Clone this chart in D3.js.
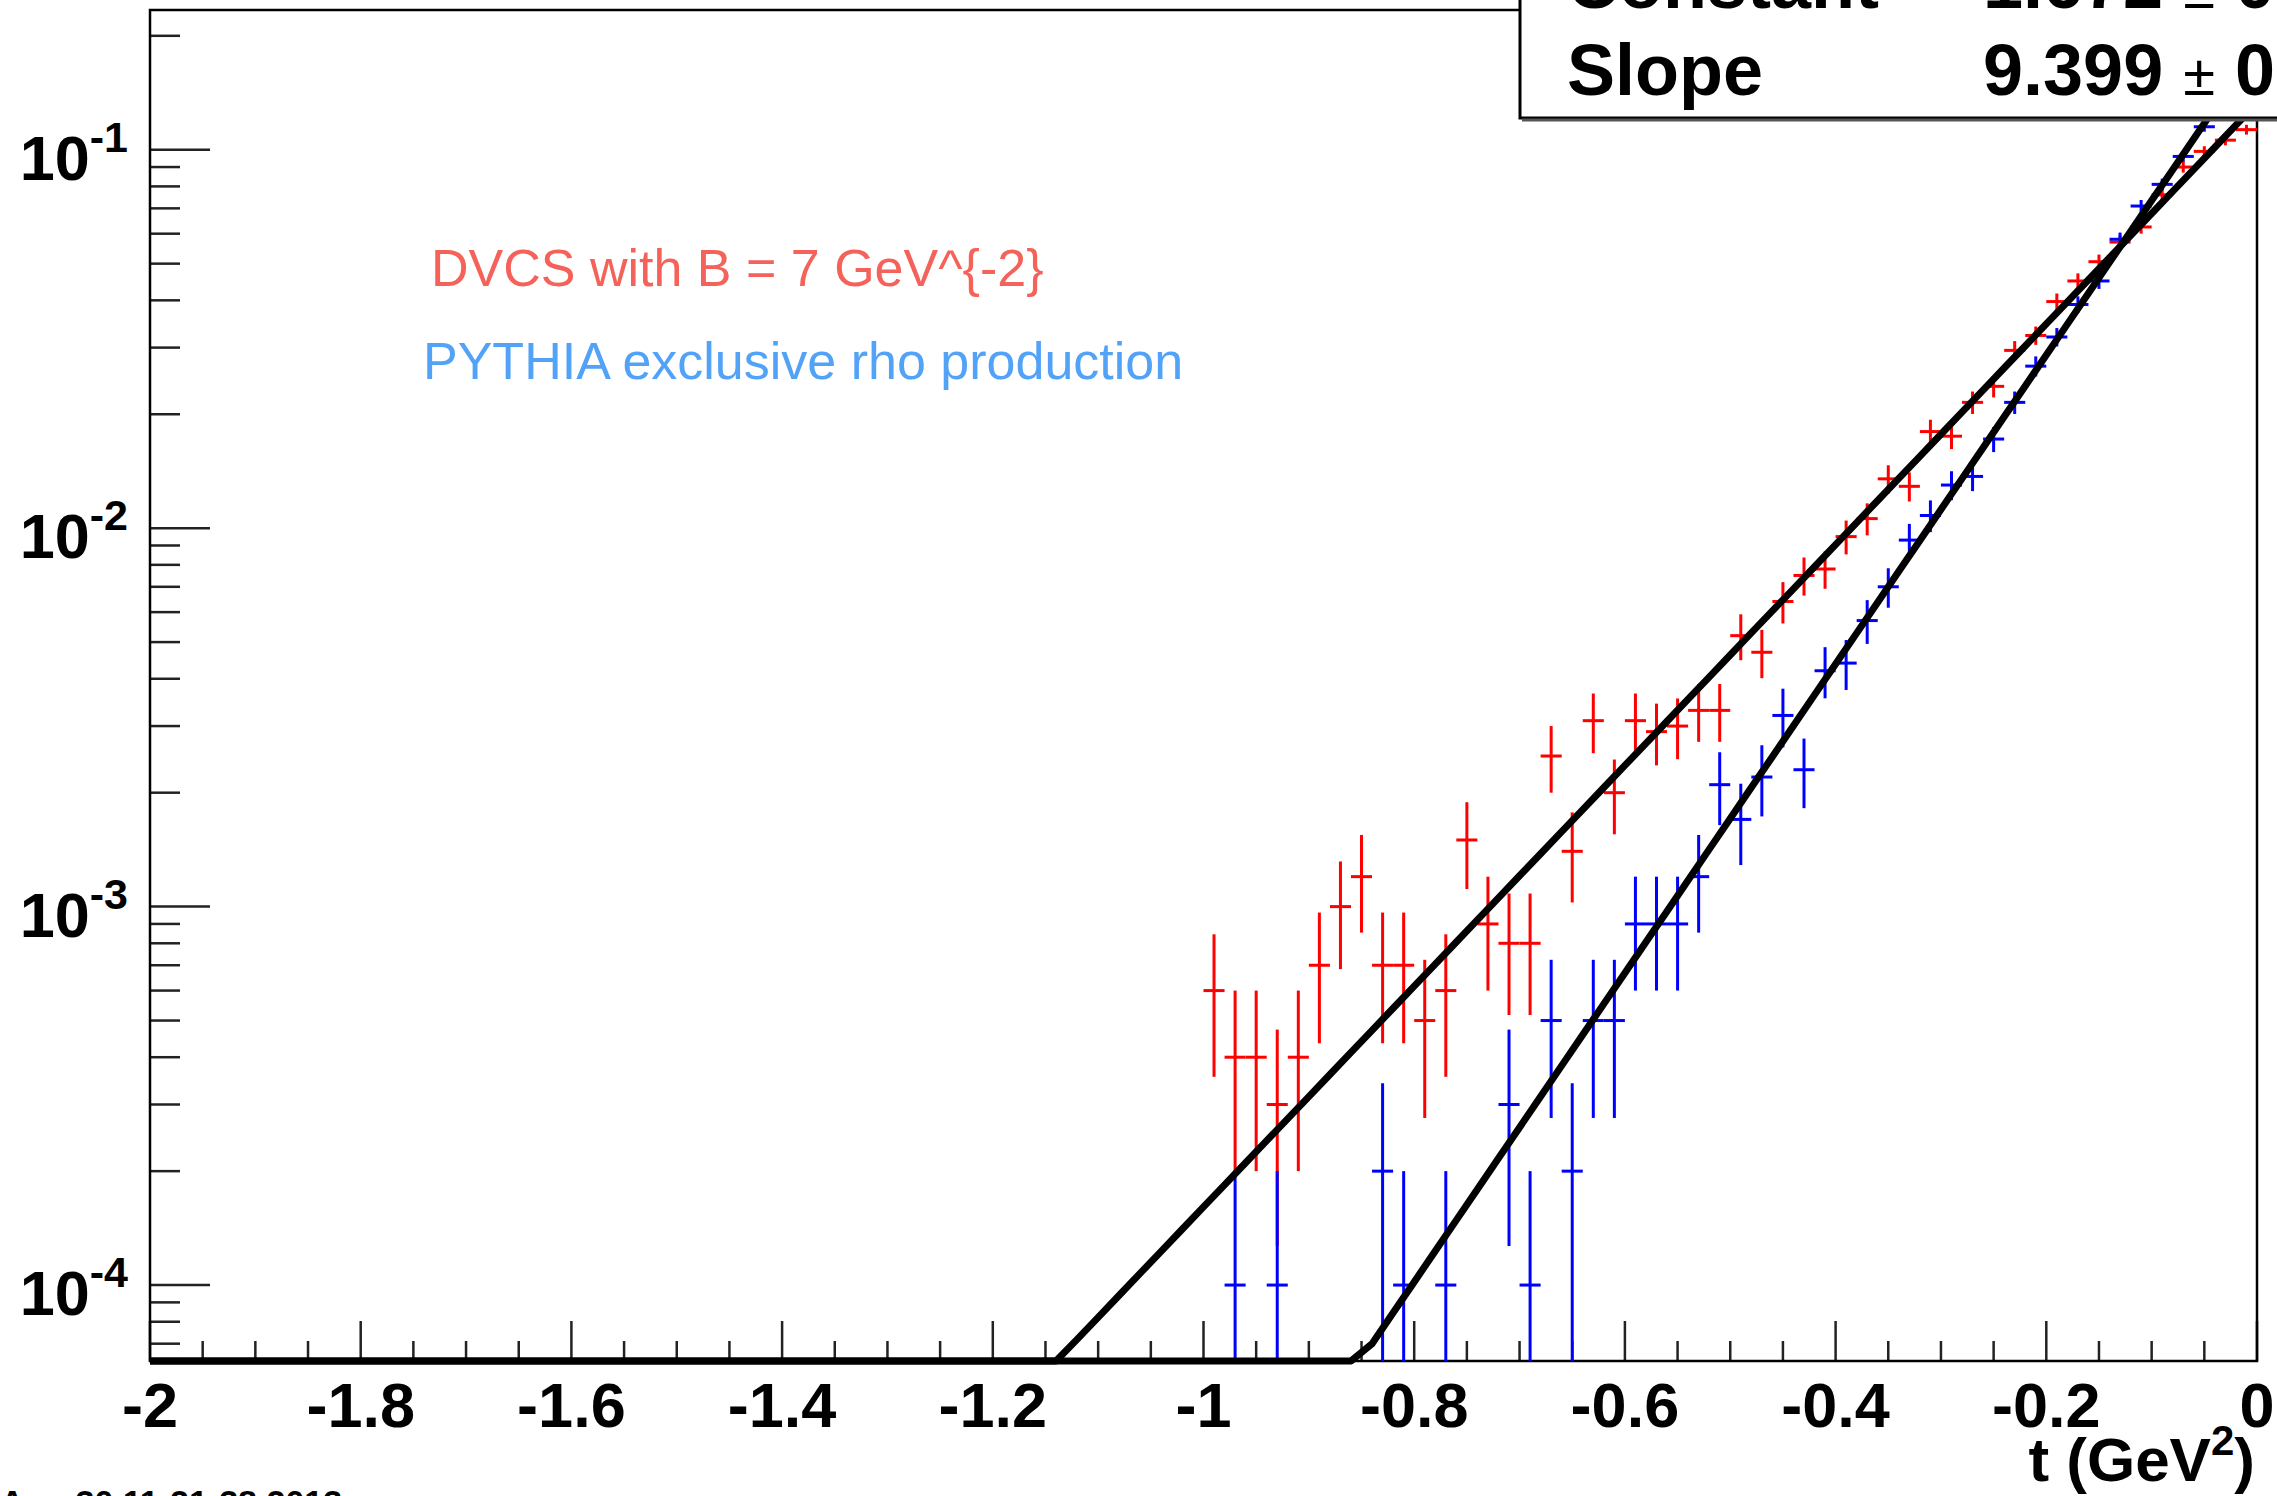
<!DOCTYPE html>
<html lang="en">
    <head>
        <meta charset="utf-8">
        <title>t distribution</title>
        <script type="text/javascript" src="https://cdn.jsdelivr.net/npm/d3@7"></script>
    </head>
    <style type="text/css">
        body { margin: 0; background: white; }
        svg { display: block; }
        text { font-family: "Liberation Sans", Arial, Helvetica, sans-serif; }
    </style>
    <body>
        <div class="chart"></div>
        <script type="text/javascript">
            // bin centres (bin width 0.02 GeV^2)
            var binCenters = [-0.99, -0.97, -0.95, -0.93, -0.91, -0.89, -0.87, -0.85, -0.83, -0.81,
                              -0.79, -0.77, -0.75, -0.73, -0.71, -0.69, -0.67, -0.65, -0.63, -0.61,
                              -0.59, -0.57, -0.55, -0.53, -0.51, -0.49, -0.47, -0.45, -0.43, -0.41,
                              -0.39, -0.37, -0.35, -0.33, -0.31, -0.29, -0.27, -0.25, -0.23, -0.21,
                              -0.19, -0.17, -0.15, -0.13, -0.11, -0.09, -0.07, -0.05, -0.03, -0.01];

            var dvcsValues = [6e-4, 4e-4, 4e-4, 3e-4, 4e-4, 7e-4, 1.0e-3, 1.2e-3, 7e-4, 7e-4,
                              5e-4, 6e-4, 1.5e-3, 9e-4, 8e-4, 8e-4, 2.5e-3, 1.4e-3, 3.1e-3, 2.0e-3,
                              3.1e-3, 2.9e-3, 3.0e-3, 3.3e-3, 3.3e-3, 5.2e-3, 4.7e-3, 6.4e-3, 7.5e-3, 7.8e-3,
                              9.5e-3, 1.06e-2, 1.35e-2, 1.29e-2, 1.8e-2, 1.75e-2, 2.15e-2, 2.37e-2, 2.95e-2, 3.23e-2,
                              3.97e-2, 4.5e-2, 5.06e-2, 5.7e-2, 6.25e-2, 7.6e-2, 9.0e-2, 9.9e-2, 1.06e-1, 1.13e-1];

            var rhoValues = [0, 1e-4, 0, 1e-4, 0, 0, 0, 0, 2e-4, 1e-4,
                             0, 1e-4, 0, 0, 3e-4, 1e-4, 5e-4, 2e-4, 5e-4, 5e-4,
                             9e-4, 9e-4, 9e-4, 1.2e-3, 2.1e-3, 1.7e-3, 2.2e-3, 3.2e-3, 2.3e-3, 4.2e-3,
                             4.4e-3, 5.7e-3, 7.0e-3, 9.3e-3, 1.08e-2, 1.3e-2, 1.37e-2, 1.72e-2, 2.15e-2, 2.68e-2,
                             3.2e-2, 3.9e-2, 4.5e-2, 5.8e-2, 7.1e-2, 8.1e-2, 9.6e-2, 1.15e-1, 1.35e-1, 1.6e-1];

            // each entry carries weight 1e-4, errors are poisson
            var eventWeight = 1e-4;

            // expo fits: exp(constant + slope * t)
            var fitNames = ["DVCS", "rho"];
            var fitConstant = [-2.019, -1.672];
            var fitSlope = [6.716, 9.399];

            var xTickValues = [-2, -1.8, -1.6, -1.4, -1.2, -1, -0.8, -0.6, -0.4, -0.2, 0];
            var xTickLabels = ["-2", "-1.8", "-1.6", "-1.4", "-1.2", "-1", "-0.8", "-0.6", "-0.4", "-0.2", "0"];
            var yTickExponents = [-4, -3, -2, -1];

            var width = 2277;
            var height = 1496;
            // note: "top" is taken by window.top, so use plot* names
            var plotLeft = 150, plotRight = 2257, plotTop = 10, plotBottom = 1361;
            var yMin = 6.3e-5, yMax = 0.234;

            var x_scale = d3.scaleLinear().domain([-2, 0]).range([plotLeft, plotRight]);
            var y_scale = d3.scaleLog().domain([yMin, yMax]).range([plotBottom, plotTop]);

            var svg = d3.select(".chart")
                        .append("svg")
                        .attr("width", width)
                        .attr("height", height);

            svg.append("defs").append("clipPath")
                .attr("id", "plotclip")
                .append("rect")
                .attr("x", plotLeft).attr("y", plotTop)
                .attr("width", plotRight - plotLeft).attr("height", plotBottom - plotTop + 5);

            // ticks
            var xMinor = x_scale.ticks(40);
            svg.append("g").selectAll("line")
                .data(xMinor)
                .enter()
                .append("line")
                .attr("x1", function(d) { return x_scale(d); })
                .attr("x2", function(d) { return x_scale(d); })
                .attr("y1", plotBottom)
                .attr("y2", function(d) {
                    var major = Math.abs(d * 5 - Math.round(d * 5)) < 1e-6;
                    return plotBottom - (major ? 40 : 20);
                })
                .attr("stroke", "#222")
                .attr("stroke-width", 2.5);

            svg.append("g").selectAll("line")
                .data(y_scale.ticks())
                .enter()
                .append("line")
                .attr("x1", plotLeft)
                .attr("x2", function(d) {
                    var lg = Math.log10(d);
                    var major = Math.abs(lg - Math.round(lg)) < 1e-6;
                    return plotLeft + (major ? 60 : 30);
                })
                .attr("y1", function(d) { return y_scale(d); })
                .attr("y2", function(d) { return y_scale(d); })
                .attr("stroke", "#222")
                .attr("stroke-width", 2.5);

            // frame
            svg.append("rect")
                .attr("x", plotLeft).attr("y", plotTop)
                .attr("width", plotRight - plotLeft).attr("height", plotBottom - plotTop)
                .attr("fill", "none")
                .attr("stroke", "black")
                .attr("stroke-width", 2.5);

            // data points with error bars
            function drawHist(values, color) {
                var pts = [];
                values.forEach(function(v, i) {
                    if (v > 0) pts.push({t: binCenters[i], v: v, e: Math.sqrt(v * eventWeight)});
                });
                var g = svg.append("g").attr("clip-path", "url(#plotclip)");
                g.selectAll(".ev")
                    .data(pts)
                    .enter()
                    .append("line")
                    .attr("x1", function(d) { return x_scale(d.t); })
                    .attr("x2", function(d) { return x_scale(d.t); })
                    .attr("y1", function(d) { return y_scale(d.v + d.e); })
                    .attr("y2", function(d) {
                        var lo = d.v - d.e;
                        return lo > yMin ? y_scale(lo) : plotBottom;
                    })
                    .attr("stroke", color)
                    .attr("stroke-width", 3);
                g.selectAll(".eh")
                    .data(pts)
                    .enter()
                    .append("line")
                    .attr("x1", function(d) { return x_scale(d.t - 0.01); })
                    .attr("x2", function(d) { return x_scale(d.t + 0.01); })
                    .attr("y1", function(d) { return y_scale(d.v); })
                    .attr("y2", function(d) { return y_scale(d.v); })
                    .attr("stroke", color)
                    .attr("stroke-width", 3);
            }
            drawHist(dvcsValues, "rgb(255,0,0)");
            drawHist(rhoValues, "rgb(0,0,255)");

            // fit functions, drawn with 100 steps like root, clamped at the minimum
            var fitLine = d3.line()
                            .x(function(d) { return x_scale(d[0]); })
                            .y(function(d) { return y_scale(d[1]); });
            fitNames.forEach(function(name, k) {
                var samples = d3.range(0, 101).map(function(i) {
                    var t = -2 + i * 0.02;
                    var f = Math.exp(fitConstant[k] + fitSlope[k] * t);
                    return [t, Math.min(Math.max(f, yMin), 10)];
                });
                svg.append("path")
                    .attr("clip-path", "url(#plotclip)")
                    .attr("d", fitLine(samples))
                    .attr("fill", "none")
                    .attr("stroke", "black")
                    .attr("stroke-width", 7)
                    .attr("stroke-linejoin", "round");
            });

            // x tick labels
            svg.append("g").selectAll("text")
                .data(xTickValues)
                .enter()
                .append("text")
                .attr("x", function(d) { return x_scale(d); })
                .attr("y", 1427)
                .attr("text-anchor", "middle")
                .attr("font-size", 63)
                .attr("font-weight", "bold")
                .text(function(d, i) { return xTickLabels[i]; });

            // y tick labels, 10^n
            var yl = svg.append("g").selectAll("text")
                .data(yTickExponents)
                .enter()
                .append("text")
                .attr("x", 128)
                .attr("y", function(d) { return y_scale(Math.pow(10, d)) + 30; })
                .attr("text-anchor", "end")
                .attr("font-size", 63)
                .attr("font-weight", "bold");
            yl.append("tspan").text("10");
            yl.append("tspan")
                .attr("dy", -28)
                .attr("font-size", 43)
                .text(function(d) { return String(d); });

            // axis title
            var xt = svg.append("text")
                .attr("x", 2255)
                .attr("y", 1481)
                .attr("text-anchor", "end")
                .attr("font-size", 62)
                .attr("font-weight", "bold");
            xt.append("tspan").text("t (GeV");
            xt.append("tspan").attr("dy", -26).attr("font-size", 42).text("2");
            xt.append("tspan").attr("dy", 26).text(")");

            // labels
            svg.append("text")
                .attr("x", 431).attr("y", 286)
                .attr("font-size", 52)
                .attr("fill", "#f4625a")
                .text("DVCS with B = 7 GeV^{-2}");
            svg.append("text")
                .attr("x", 423).attr("y", 379)
                .attr("font-size", 52)
                .attr("fill", "#52a3f7")
                .text("PYTHIA exclusive rho production");

            // stats box (cut by the canvas edge)
            svg.append("rect")
                .attr("x", 1520).attr("y", -60)
                .attr("width", 900).attr("height", 178)
                .attr("fill", "white")
                .attr("stroke", "black")
                .attr("stroke-width", 3);
            svg.append("line")
                .attr("x1", 1522).attr("x2", 2277)
                .attr("y1", 120).attr("y2", 120)
                .attr("stroke", "#555")
                .attr("stroke-width", 3);

            var statNames = ["Constant", "Slope"];
            var statValues = ["-1.672", "9.399"];
            var statErrors = ["0.029", "0.116"];
            var statX = [1959, 1983];
            var statY = [8, 95];
            statNames.forEach(function(n, i) {
                svg.append("text")
                    .attr("x", 1567).attr("y", statY[i])
                    .attr("font-size", 72).attr("font-weight", "bold")
                    .text(n);
                var vt = svg.append("text")
                    .attr("x", statX[i]).attr("y", statY[i])
                    .attr("font-size", 72).attr("font-weight", "bold");
                vt.append("tspan").text(statValues[i] + " ");
                vt.append("tspan").attr("font-weight", "normal").attr("font-size", 58).text("\u00b1");
                vt.append("tspan").text(" " + statErrors[i]);
            });

            // date stamp at the very bottom
            svg.append("text")
                .attr("x", 0).attr("y", 1514)
                .attr("font-size", 34)
                .attr("font-weight", "bold")
                .text("Aug 30 11:21:38 2013");
        </script>
    </body>
</html>
